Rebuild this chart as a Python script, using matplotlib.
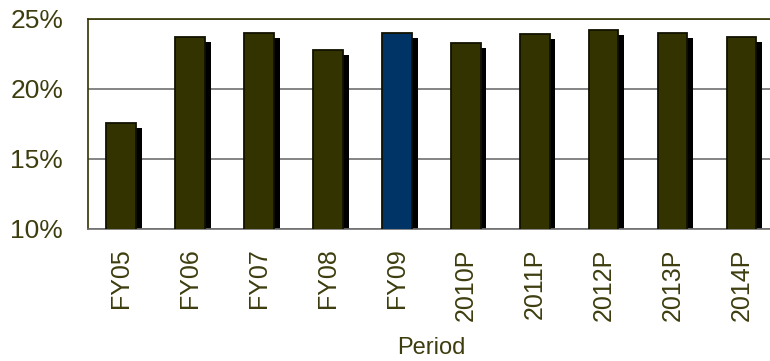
import numpy as np
import matplotlib.pyplot as plt

# margin by period, in percent
periods = ['FY05', 'FY06', 'FY07', 'FY08', 'FY09',
           '2010P', '2011P', '2012P', '2013P', '2014P']
margin = [17.6, 23.7, 24.0, 22.8, 24.0, 23.3, 23.9, 24.2, 24.0, 23.7]
yticks = [10, 15, 20, 25]

olive = '#333300'
navy = '#003366'
text_col = '#3d3d0f'

plt.rcParams['font.family'] = ['Liberation Sans', 'DejaVu Sans']

fig = plt.figure(figsize=(7.7, 3.61), dpi=100)
ax = fig.add_axes([88/770, 1 - 229/361, (776 - 88)/770, (229 - 19)/361])

x = np.arange(len(periods))
colors = [navy if p == 'FY09' else olive for p in periods]

# drop shadow behind each bar
ax.bar(x + 0.085, np.array(margin) - 0.36, width=0.43, color='black',
       zorder=2)
ax.bar(x, margin, width=0.43, color=colors, edgecolor='#111100',
       linewidth=1.3, zorder=3)

ax.set_ylim(10, 25)
ax.set_xlim(-0.48, 9.5)
ax.set_yticks(yticks)
ax.set_yticklabels([f'{v}%' for v in yticks])
ax.set_xticks(x)
ax.set_xticklabels(periods, rotation=90)

ax.yaxis.grid(True, color='#707070', linewidth=1.2)
ax.set_axisbelow(True)

ax.tick_params(axis='y', length=0, pad=18, labelsize=19, labelcolor=text_col)
ax.tick_params(axis='x', length=0, pad=14, labelsize=18, labelcolor=text_col)

ax.spines['top'].set_color(olive)
ax.spines['left'].set_color(olive)
ax.spines['bottom'].set_color('#707070')
ax.spines['right'].set_visible(False)
for s in ['top', 'left', 'bottom']:
    ax.spines[s].set_linewidth(1.2)

fig.text(431/770, 1 - 348/361, 'Period', ha='center', va='center',
         fontsize=17, color=text_col)

fig.savefig('out.png', dpi=100)
